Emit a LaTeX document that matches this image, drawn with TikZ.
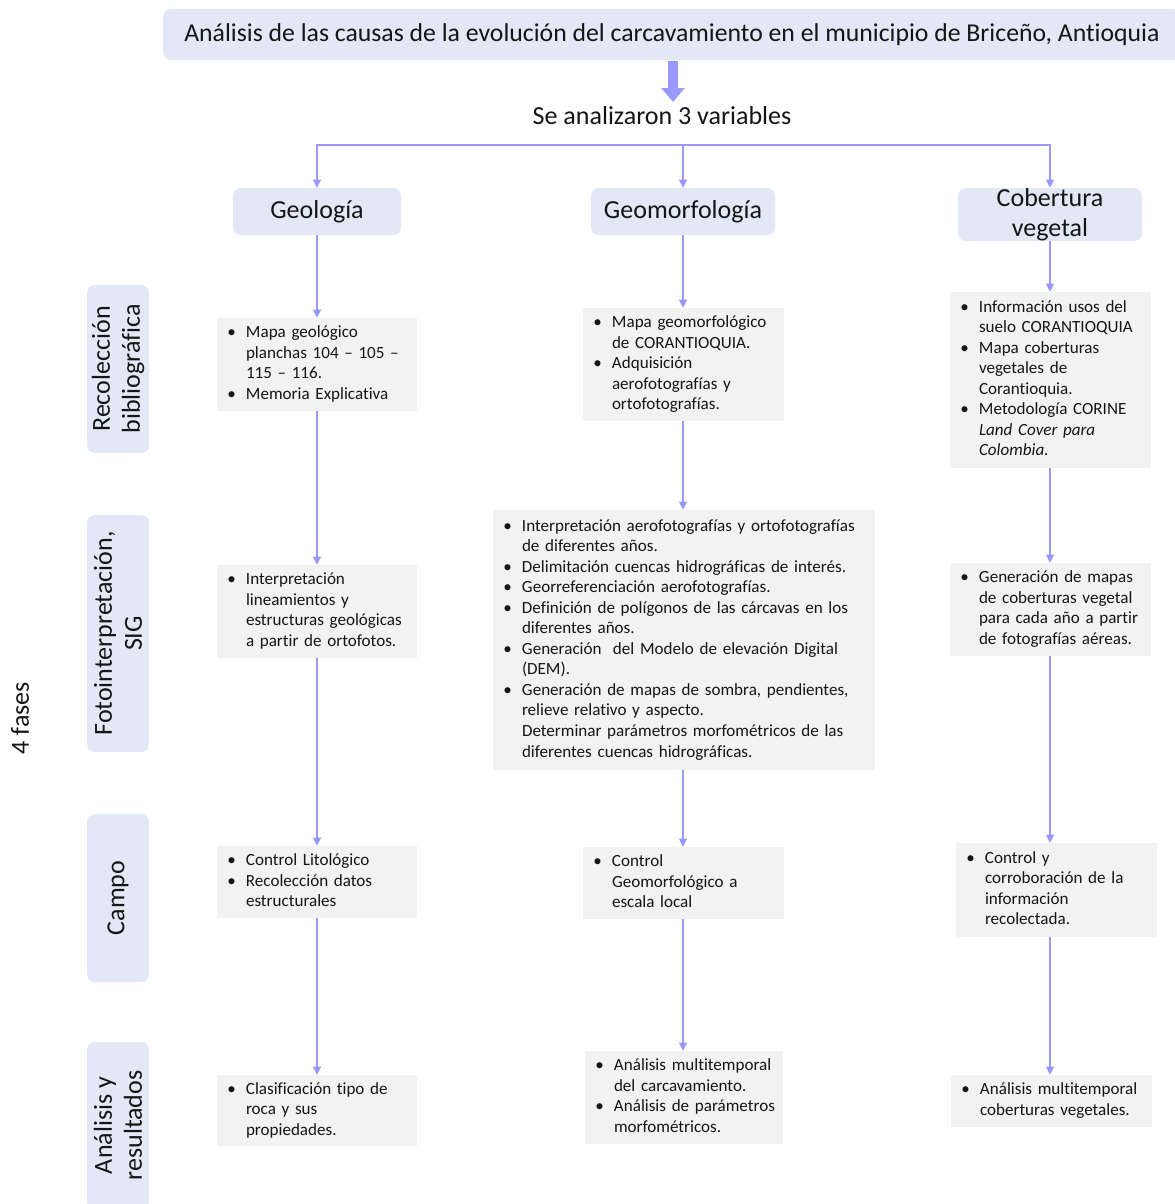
\documentclass[tikz,border=0pt]{standalone}
\usepackage{fontspec}
\setmainfont{Carlito}[Ligatures=NoCommon]
\usetikzlibrary{arrows.meta}
\definecolor{hdr}{HTML}{E3E8F6}
\definecolor{gbg}{HTML}{F2F2F2}
\definecolor{arr}{HTML}{9999FF}
\definecolor{txt}{HTML}{151515}
\newcommand{\bodyfont}{\fontsize{12.8pt}{15.4pt}\selectfont}
\newcommand{\bigfont}{\fontsize{19.5pt}{22.5pt}\selectfont}
\newcommand{\titlefont}{\fontsize{19.3pt}{22.5pt}\selectfont}
\newcommand{\bl}{\makebox[12pt][l]{\hspace{-2pt}•}}
\newcommand{\blist}[1]{\noindent\begin{tabular}{@{}l@{}l@{}}#1\end{tabular}}
\newcommand{\gbox}[6]{%
 \pgfmathsetmacro{\gcx}{(#2+#4)/2}%
 \pgfmathsetmacro{\gcy}{(#3+#5)/2}%
 \pgfmathsetmacro{\gbw}{(#4-#2)*0.75}%
 \pgfmathsetmacro{\gbh}{(#5-#3)*0.75}%
 \pgfmathsetmacro{\gtw}{(#4-#2-26)*0.75}%
 \node[gboxst, minimum width=\gbw pt, minimum height=\gbh pt, text width=\gtw pt] (#1) at (\gcx,\gcy) {\blist{#6}};}
\tikzset{
  gboxst/.style={fill=gbg, draw=none, inner xsep=9.75pt, inner ysep=0pt, font=\bodyfont, text=txt, anchor=center},
  hdrst/.style={fill=hdr, draw=none, rounded corners=6pt, inner sep=0pt, font=\bigfont, text=txt, align=center},
  phst/.style={fill=hdr, draw=none, rounded corners=6pt, inner sep=0pt, font=\bigfont, text=txt, align=center, rotate=90},
  conn/.style={draw=arr, line width=0.8pt, -{Triangle[length=6pt,width=6pt]}},
  bigarrow/.style={draw=arr, line width=8pt, -{Triangle[length=10.5pt,width=17pt]}},
}
\begin{document}
\begin{tikzpicture}[x=0.75pt,y=-0.75pt]
\fill[white] (0,0) rectangle (1175,1204);
\useasboundingbox (0,0) rectangle (1175,1204);

% title
\node[hdrst, font=\titlefont, minimum width=763.5pt, minimum height=38.25pt] (title) at (672,34.5)
  {Análisis de las causas de la evolución del carcavamiento en el municipio de Briceño, Antioquia};
\coordinate (ba1) at (673,61);
\coordinate (ba2) at (673,102);
\draw[bigarrow] (ba1) -- (ba2);
\node[font=\bigfont, text=txt, inner sep=0pt] (sa) at (662,116) {Se analizaron 3 variables};

% variable headers
\node[hdrst, minimum width=126pt, minimum height=35.25pt] (geo) at (317,211.5) {Geología};
\node[hdrst, minimum width=138pt, minimum height=35.25pt] (geom) at (683,211.5) {Geomorfología};
\node[hdrst, minimum width=138pt, minimum height=39.75pt] (cob) at (1050,214.5) {Cobertura\\vegetal};

\coordinate (split) at (683,145);
\draw[conn] (split) -| (geo.north);
\draw[conn] (split) -- (geom.north);
\draw[conn] (split) -| (cob.north);

% phases
\node[rotate=90, font=\bigfont, text=txt, inner sep=0pt] (fases) at (20,718) {4 fases};
\node[phst, minimum width=126pt, minimum height=46.5pt] (p1) at (118,369) {Recolección\\bibliográfica};
\node[phst, minimum width=177.75pt, minimum height=46.5pt] (p2) at (118,633.5) {Fotointerpretación,\\SIG};
\node[phst, minimum width=126pt, minimum height=46.5pt] (p3) at (118,898) {Campo};
\node[phst, minimum width=125.25pt, minimum height=46.5pt] (p4) at (118,1125.5) {Análisis y\\resultados};

% column 1
\gbox{g1a}{217}{318}{417}{411}{\bl & Mapa geológico\\ & planchas 104 – 105 –\\ & 115 – 116.\\ \bl & Memoria Explicativa}
\gbox{g1b}{217}{565}{417}{658}{\bl & Interpretación\\ & lineamientos y\\ & estructuras geológicas\\ & a partir de ortofotos.}
\gbox{g1c}{217}{846}{417}{918}{\bl & Control Litológico\\ \bl & Recolección datos\\ & estructurales}
\gbox{g1d}{217}{1075}{417}{1146}{\bl & Clasificación tipo de\\ & roca y sus\\ & propiedades.}

% column 2
\gbox{g2a}{583}{308}{784}{421}{\bl & Mapa geomorfológico\\ & de CORANTIOQUIA.\\ \bl & Adquisición\\ & aerofotografías y\\ & ortofotografías.}
\gbox{g2b}{493}{510}{875}{770}{\bl & Interpretación aerofotografías y ortofotografías\\ & de diferentes años.\\ \bl & Delimitación cuencas hidrográficas de interés.\\ \bl & Georreferenciación aerofotografías.\\ \bl & Definición de polígonos de las cárcavas en los\\ & diferentes años.\\ \bl & Generación\ \ del Modelo de elevación Digital\\ & (DEM).\\ \bl & Generación de mapas de sombra, pendientes,\\ & relieve relativo y aspecto.\\ & Determinar parámetros morfométricos de las\\ & diferentes cuencas hidrográficas.}
\gbox{g2c}{583}{847}{784}{919}{\bl & Control\\ & Geomorfológico a\\ & escala local}
\gbox{g2d}{585}{1051}{783}{1144}{\bl & Análisis multitemporal\\ & del carcavamiento.\\ \bl & Análisis de parámetros\\ & morfométricos.}

% column 3
\gbox{g3a}{950}{292}{1151}{468}{\bl & Información usos del\\ & suelo CORANTIOQUIA\\ \bl & Mapa coberturas\\ & vegetales de\\ & Corantioquia.\\ \bl & Metodología CORINE\\ & \textit{Land Cover para}\\ & \textit{Colombia.}}
\gbox{g3b}{950}{563}{1151}{656}{\bl & Generación de mapas\\ & de coberturas vegetal\\ & para cada año a partir\\ & de fotografías aéreas.}
\gbox{g3c}{956}{843}{1157}{937}{\bl & Control y\\ & corroboración de la\\ & información\\ & recolectada.}
\gbox{g3d}{951}{1075}{1152}{1127}{\bl & Análisis multitemporal\\ & coberturas vegetales.}

% connectors column 1
\draw[conn] (geo.south) -- (g1a.north -| geo.south);
\draw[conn] (g1a.south -| geo.south) -- (g1b.north -| geo.south);
\draw[conn] (g1b.south -| geo.south) -- (g1c.north -| geo.south);
\draw[conn] (g1c.south -| geo.south) -- (g1d.north -| geo.south);
% connectors column 2
\draw[conn] (geom.south) -- (g2a.north -| geom.south);
\draw[conn] (g2a.south -| geom.south) -- (g2b.north -| geom.south);
\draw[conn] (g2b.south -| geom.south) -- (g2c.north -| geom.south);
\draw[conn] (g2c.south -| geom.south) -- (g2d.north -| geom.south);
% connectors column 3
\draw[conn] (cob.south) -- (g3a.north -| cob.south);
\draw[conn] (g3a.south -| cob.south) -- (g3b.north -| cob.south);
\draw[conn] (g3b.south -| cob.south) -- (g3c.north -| cob.south);
\draw[conn] (g3c.south -| cob.south) -- (g3d.north -| cob.south);
\end{tikzpicture}
\end{document}
